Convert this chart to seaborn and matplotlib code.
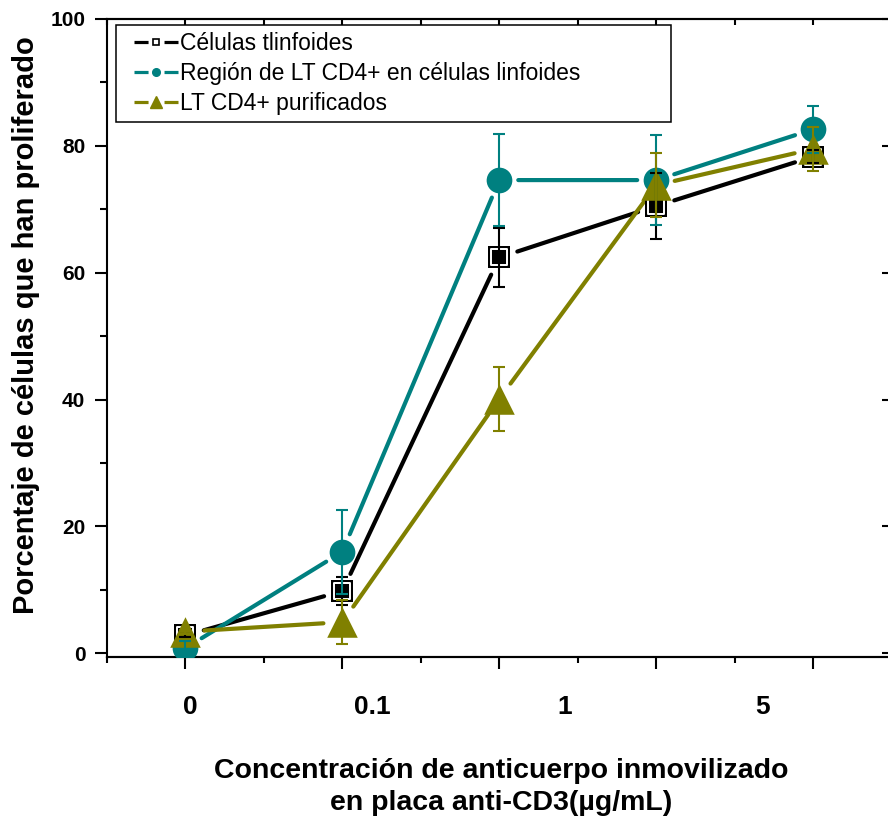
import numpy as np
import matplotlib
matplotlib.use("Agg")
import matplotlib.pyplot as plt
import seaborn as sns
from matplotlib.lines import Line2D
from matplotlib.legend_handler import HandlerLine2D
from matplotlib.ticker import MultipleLocator

# ---------------- data ----------------
x_pos = [0, 1, 2, 3, 4]
x_tick_labels = ["0", "0.1", "1", "5"]
x_tick_label_pos = [0.03, 1.19, 2.42, 3.68]
y_tick_values = [0, 20, 40, 60, 80, 100]

series_names = ["Células tlinfoides",
                "Región de LT CD4+ en células linfoides",
                "LT CD4+ purificados"]
celulas_vals = [2.8, 9.8, 62.4, 70.5, 78.3]
celulas_err = [0.3, 2.2, 4.6, 5.2, 1.0]
region_vals = [0.8, 16.0, 74.6, 74.6, 82.6]
region_err = [1.1, 6.6, 7.3, 7.1, 3.75]
purif_vals = [3.4, 4.9, 40.1, 73.8, 79.5]
purif_err = [0.3, 3.5, 5.0, 5.0, 3.5]

BLACK = "#000000"
TEAL = "#008080"
OLIVE = "#808000"

sns.set_style("white")
plt.rcParams["font.family"] = ["Liberation Sans", "DejaVu Sans"]
plt.rcParams["text.color"] = "black"
plt.rcParams["axes.labelcolor"] = "black"
plt.rcParams["xtick.color"] = "black"
plt.rcParams["ytick.color"] = "black"
plt.rcParams["axes.edgecolor"] = "black"

fig = plt.figure(figsize=(8.88, 8.22), dpi=100)
ax = fig.add_axes([0.1205, 0.2007, 0.8835, 0.7762])
ax.set_xlim(-0.5, 4.5)
ax.set_ylim(-0.6, 100)

for sp in ax.spines.values():
    sp.set_visible(True)
    sp.set_linewidth(1.5)
    sp.set_color("black")

# ---------------- lines with gaps around markers ----------------
GAP = 19  # pixels
def gapped_line(xs, ys, color):
    tx, ty = [], []
    for i in range(len(xs) - 1):
        p0 = ax.transData.transform((xs[i], ys[i]))
        p1 = ax.transData.transform((xs[i + 1], ys[i + 1]))
        d = p1 - p0
        u = d / np.hypot(*d)
        a = ax.transData.inverted().transform(p0 + u * GAP)
        b = ax.transData.inverted().transform(p1 - u * GAP)
        tx += [a[0], b[0], np.nan]
        ty += [a[1], b[1], np.nan]
    ax.plot(tx, ty, color=color, lw=3.0, solid_capstyle="round", zorder=2)

gapped_line(x_pos, celulas_vals, BLACK)
gapped_line(x_pos, region_vals, TEAL)
gapped_line(x_pos, purif_vals, OLIVE)

# ---------------- markers ----------------
sns.scatterplot(x=x_pos, y=celulas_vals, marker="s", s=16.5 ** 2, color=BLACK,
                edgecolor=BLACK, linewidth=0, zorder=3, ax=ax, legend=False)
sns.scatterplot(x=x_pos, y=celulas_vals, marker="s", s=11.8 ** 2, color=BLACK,
                edgecolor="white", linewidth=1.4, zorder=3.1, ax=ax, legend=False)
sns.scatterplot(x=x_pos, y=region_vals, marker="o", s=18.5 ** 2, color=TEAL,
                edgecolor=TEAL, linewidth=0, zorder=4, ax=ax, legend=False)
sns.scatterplot(x=x_pos, y=purif_vals, marker="^", s=22 ** 2, color=OLIVE,
                edgecolor=OLIVE, linewidth=0, zorder=5, ax=ax, legend=False)

# ---------------- error bars ----------------
for vals, err, col in [(celulas_vals, celulas_err, BLACK),
                       (region_vals, region_err, TEAL),
                       (purif_vals, purif_err, OLIVE)]:
    ax.errorbar(x_pos, vals, yerr=err, fmt="none", ecolor=col, elinewidth=1.5,
                capsize=4.6, capthick=1.5, zorder=6)

# ---------------- ticks ----------------
ax.set_yticks(y_tick_values, [str(v) for v in y_tick_values],
              fontsize=15, fontweight="bold")
ax.yaxis.set_minor_locator(MultipleLocator(10))
ax.tick_params(axis="y", which="major", direction="out", length=8.6, width=1.5,
               pad=7, left=True, right=False)
ax.tick_params(axis="y", which="minor", direction="out", length=5, width=1.5,
               left=True, right=False)

ax.set_xticks(x_tick_label_pos, x_tick_labels, fontsize=19, fontweight="bold")
ax.tick_params(axis="x", which="major", length=0, pad=27, bottom=True, top=False)
ax.tick_params(axis="x", which="minor", length=0, bottom=False, top=False)

secb = ax.secondary_xaxis("bottom")
secb.set_xticks(x_pos, ["" for _ in x_pos])
secb.xaxis.set_minor_locator(MultipleLocator(0.5))
secb.tick_params(which="major", direction="out", length=8.6, width=1.5)
secb.tick_params(which="minor", direction="out", length=4.3, width=1.5)
secb.spines["bottom"].set_linewidth(1.5)

sect = ax.secondary_xaxis("top")
sect.set_xticks(x_pos, ["" for _ in x_pos])
sect.xaxis.set_minor_locator(MultipleLocator(0.5))
sect.tick_params(which="both", direction="in", length=4.3, width=1.5)
sect.spines["top"].set_linewidth(1.5)

secr = ax.secondary_yaxis("right")
secr.set_yticks(y_tick_values, ["" for _ in y_tick_values])
secr.yaxis.set_minor_locator(MultipleLocator(10))
secr.tick_params(which="major", direction="in", length=7, width=1.5)
secr.tick_params(which="minor", direction="in", length=2.5, width=1.5)

# ---------------- labels ----------------
ax.set_ylabel("Porcentaje de células que han proliferado", fontsize=21,
              fontweight="bold", va="center", color="black")
ax.yaxis.set_label_coords(-0.1033, 0.5204)
ax.set_xlabel("Concentración de anticuerpo inmovilizado\nen placa anti-CD3(µg/mL)",
              fontsize=20.5, fontweight="bold", va="center", linespacing=1.3,
              color="black")
ax.xaxis.set_label_coords(0.5022, -0.2038)

# ---------------- legend ----------------
pattern = (0, (4.4, 5.0, 4.4, 60))
h1 = Line2D([], [], color=BLACK, lw=2.3, linestyle=pattern, marker="s", ms=5,
            mfc="white", mec=BLACK, mew=1.2)
h2 = Line2D([], [], color=TEAL, lw=2.3, linestyle=pattern, marker="o", ms=5.5,
            mfc=TEAL, mec=TEAL)
h3 = Line2D([], [], color=OLIVE, lw=2.3, linestyle=pattern, marker="^", ms=8,
            mfc=OLIVE, mec=OLIVE)
leg = ax.legend([h1, h2, h3], series_names, loc="upper left",
                bbox_to_anchor=(0.0111, 0.8448, 0.7074, 0.1458), mode="expand",
                borderaxespad=0, fontsize=16.5, handlelength=2.4,
                handletextpad=0.1, borderpad=0.32, labelspacing=0.3,
                frameon=True, fancybox=False, edgecolor="black", framealpha=1,
                handler_map={Line2D: HandlerLine2D(xpad=0.48)})
leg.get_frame().set_linewidth(1.1)
leg.set_zorder(10)
for t in leg.get_texts():
    t.set_color("black")

fig.savefig("out.png", dpi=100)
